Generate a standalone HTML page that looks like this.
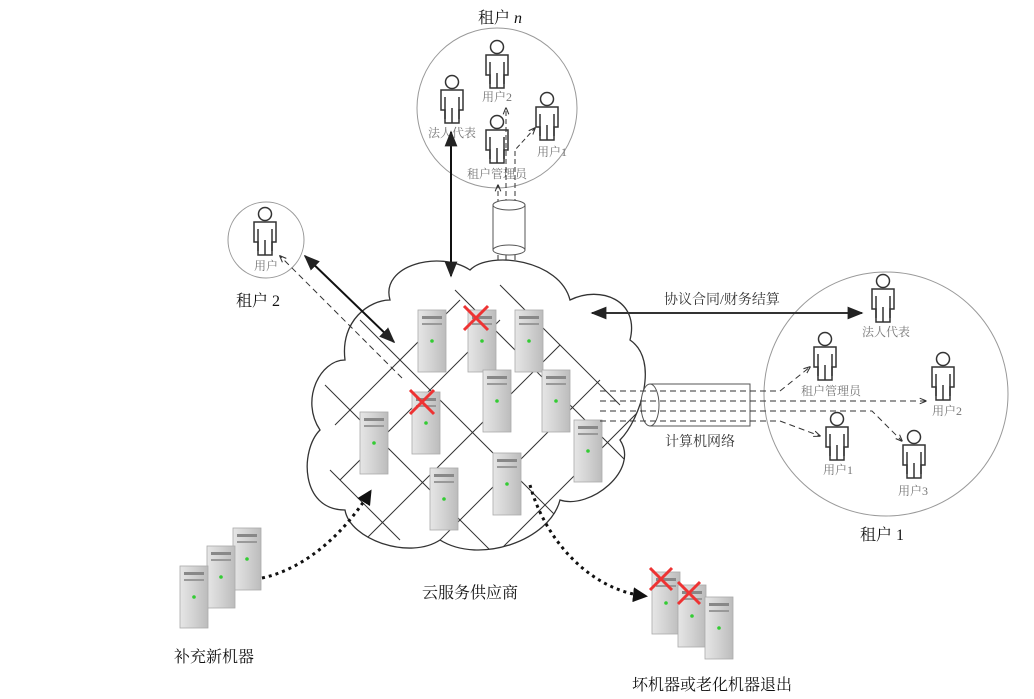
<!DOCTYPE html>
<html><head><meta charset="utf-8"><style>
html,body{margin:0;padding:0;background:#fff}
svg{display:block}
text{font-family:"Liberation Serif","Noto Serif CJK SC","Noto Sans CJK SC",serif;fill:#222}
.s{font-size:12px;fill:#777}
.m{font-size:14px;fill:#333}
.b{font-size:16px;fill:#111}
</style></head><body>
<svg width="1034" height="699" viewBox="0 0 1034 699" xmlns="http://www.w3.org/2000/svg">
<defs>
<linearGradient id="g" x1="0" x2="1"><stop offset="0" stop-color="#e6e6e6"/><stop offset="0.5" stop-color="#d2d2d2"/><stop offset="1" stop-color="#bcbcbc"/></linearGradient>
<g id="srv">
<rect x="0" y="0" width="28" height="62" fill="url(#g)" stroke="#aaa" stroke-width="0.8"/>
<rect x="4" y="6" width="20" height="3" fill="#888"/>
<rect x="4" y="13" width="20" height="2" fill="#999"/>
<circle cx="14" cy="31" r="1.8" fill="#3c3"/>
</g>
<g id="per" fill="#fff" stroke="#333" stroke-width="1.5">
<circle cx="0" cy="-21" r="6.5"/>
<path d="M-11 -13 H11 V7 H7 V20 H-7 V7 H-11 Z"/>
<path d="M-7 -6 V16 M7 -6 V16 M0 5 V20" fill="none"/>
</g>
<marker id="ah" viewBox="0 0 10 10" refX="9" refY="5" markerWidth="8" markerHeight="8" orient="auto-start-reverse"><path d="M0 1 L10 5 L0 9 Z" fill="#222"/></marker>
<marker id="oh" viewBox="0 0 10 10" refX="9" refY="5" markerWidth="7" markerHeight="7" orient="auto"><path d="M0 1 L10 5 L0 9" fill="none" stroke="#333" stroke-width="1.5"/></marker>
<marker id="bh" viewBox="0 0 10 10" refX="8" refY="5" markerWidth="5" markerHeight="5" orient="auto"><path d="M0 0 L10 5 L0 10 Z" fill="#111"/></marker>
<clipPath id="cc"><path id="cloudp" d="M390 300 C380 265 440 250 470 270 C490 250 560 260 570 300 C600 285 640 300 630 340 C660 360 640 420 620 440 C640 470 590 510 560 500 C550 540 480 565 440 540 C410 560 350 540 345 510 C300 510 300 450 320 430 C300 400 320 360 345 360 C340 320 370 300 390 300 Z"/></clipPath>
</defs>

<use href="#cloudp" fill="#fff" stroke="#333" stroke-width="1.3"/>
<g clip-path="url(#cc)" stroke="#333" stroke-width="1">
<path d="M335 425 L460 300 M340 480 L500 320 M360 545 L560 345 M420 560 L600 380 M490 560 L640 410"/>
<path d="M455 290 L640 475 M360 320 L600 560 M325 385 L500 560 M500 285 L620 405 M330 470 L400 540"/>
</g>
<use href="#srv" x="418" y="310"/><use href="#srv" x="468" y="310"/><use href="#srv" x="515" y="310"/>
<use href="#srv" x="483" y="370"/><use href="#srv" x="542" y="370"/><use href="#srv" x="412" y="392"/>
<use href="#srv" x="360" y="412"/><use href="#srv" x="574" y="420"/><use href="#srv" x="430" y="468"/><use href="#srv" x="493" y="453"/>
<g stroke="#e33" stroke-width="3"><path d="M464 306 L488 330 M488 306 L464 330"/><path d="M410 390 L434 414 M434 390 L410 414"/></g>
<text class="b" x="470" y="598" text-anchor="middle">云服务供应商</text>

<text class="b" x="500" y="23" text-anchor="middle">租户 <tspan font-style="italic">n</tspan></text>
<circle cx="497" cy="108" r="80" fill="none" stroke="#999" stroke-width="1"/>
<use href="#per" x="497" y="68"/><text class="s" x="497" y="101" text-anchor="middle">用户2</text>
<use href="#per" x="452" y="103"/><text class="s" x="452" y="137" text-anchor="middle">法人代表</text>
<use href="#per" x="497" y="143"/><text class="s" x="497" y="178" text-anchor="middle">租户管理员</text>
<use href="#per" x="547" y="120"/><text class="s" x="552" y="156" text-anchor="middle">用户1</text>
<g stroke="#333" stroke-dasharray="5,3" fill="none">
<path d="M506 260 V108" marker-end="url(#oh)"/>
<path d="M498 260 V185" marker-end="url(#oh)"/>
<path d="M515 260 V150 L535 128" marker-end="url(#oh)"/>
</g>
<rect x="493" y="205" width="32" height="45" fill="#fff" stroke="#555"/>
<ellipse cx="509" cy="205" rx="16" ry="5" fill="#fff" stroke="#555"/>
<ellipse cx="509" cy="250" rx="16" ry="5" fill="#fff" stroke="#555"/>
<line x1="451" y1="132" x2="451" y2="276" stroke="#111" stroke-width="2" marker-start="url(#ah)" marker-end="url(#ah)"/>

<circle cx="266" cy="240" r="38" fill="none" stroke="#999"/>
<use href="#per" x="265" y="235"/><text class="s" x="266" y="270" text-anchor="middle">用户</text>
<text class="b" x="258" y="306" text-anchor="middle">租户 2</text>
<line x1="305" y1="256" x2="394" y2="342" stroke="#111" stroke-width="2" marker-start="url(#ah)" marker-end="url(#ah)"/>
<line x1="402" y1="378" x2="280" y2="256" stroke="#333" stroke-dasharray="6,4" marker-end="url(#oh)"/>

<circle cx="886" cy="394" r="122" fill="none" stroke="#999"/>
<line x1="592" y1="313" x2="862" y2="313" stroke="#333" stroke-width="2" marker-start="url(#ah)" marker-end="url(#ah)"/>
<text class="m" x="722" y="304" text-anchor="middle">协议合同/财务结算</text>
<use href="#per" x="883" y="302"/><text class="s" x="886" y="336" text-anchor="middle">法人代表</text>
<use href="#per" x="825" y="360"/><text class="s" x="831" y="395" text-anchor="middle">租户管理员</text>
<use href="#per" x="943" y="380"/><text class="s" x="947" y="415" text-anchor="middle">用户2</text>
<use href="#per" x="837" y="440"/><text class="s" x="838" y="474" text-anchor="middle">用户1</text>
<use href="#per" x="914" y="458"/><text class="s" x="913" y="495" text-anchor="middle">用户3</text>
<rect x="650" y="384" width="100" height="42" fill="#fff" stroke="#555"/>
<ellipse cx="650" cy="405" rx="9" ry="21" fill="#fff" stroke="#555"/>
<g stroke="#333" stroke-dasharray="6,4" fill="none">
<path d="M600 391 H780 L810 367" marker-end="url(#oh)"/>
<path d="M600 401 H926" marker-end="url(#oh)"/>
<path d="M600 411 H872 L902 441" marker-end="url(#oh)"/>
<path d="M600 421 H780 L820 436" marker-end="url(#oh)"/>
</g>
<text class="m" x="700" y="446" text-anchor="middle">计算机网络</text>
<text class="b" x="882" y="540" text-anchor="middle">租户 1</text>

<use href="#srv" x="233" y="528"/><use href="#srv" x="207" y="546"/><use href="#srv" x="180" y="566"/>
<text class="b" x="214" y="662" text-anchor="middle">补充新机器</text>
<path d="M262 578 C300 570 340 540 370 492" fill="none" stroke="#111" stroke-width="3" stroke-dasharray="3,4" marker-end="url(#bh)"/>

<path d="M530 485 C545 540 590 590 645 596" fill="none" stroke="#111" stroke-width="3" stroke-dasharray="3,4" marker-end="url(#bh)"/>
<use href="#srv" x="652" y="572"/><use href="#srv" x="678" y="585"/><use href="#srv" x="705" y="597"/>
<g stroke="#e33" stroke-width="3"><path d="M650 568 L672 590 M672 568 L650 590"/><path d="M678 582 L700 604 M700 582 L678 604"/></g>
<text class="b" x="712" y="690" text-anchor="middle">坏机器或老化机器退出</text>
</svg>
</body></html>
